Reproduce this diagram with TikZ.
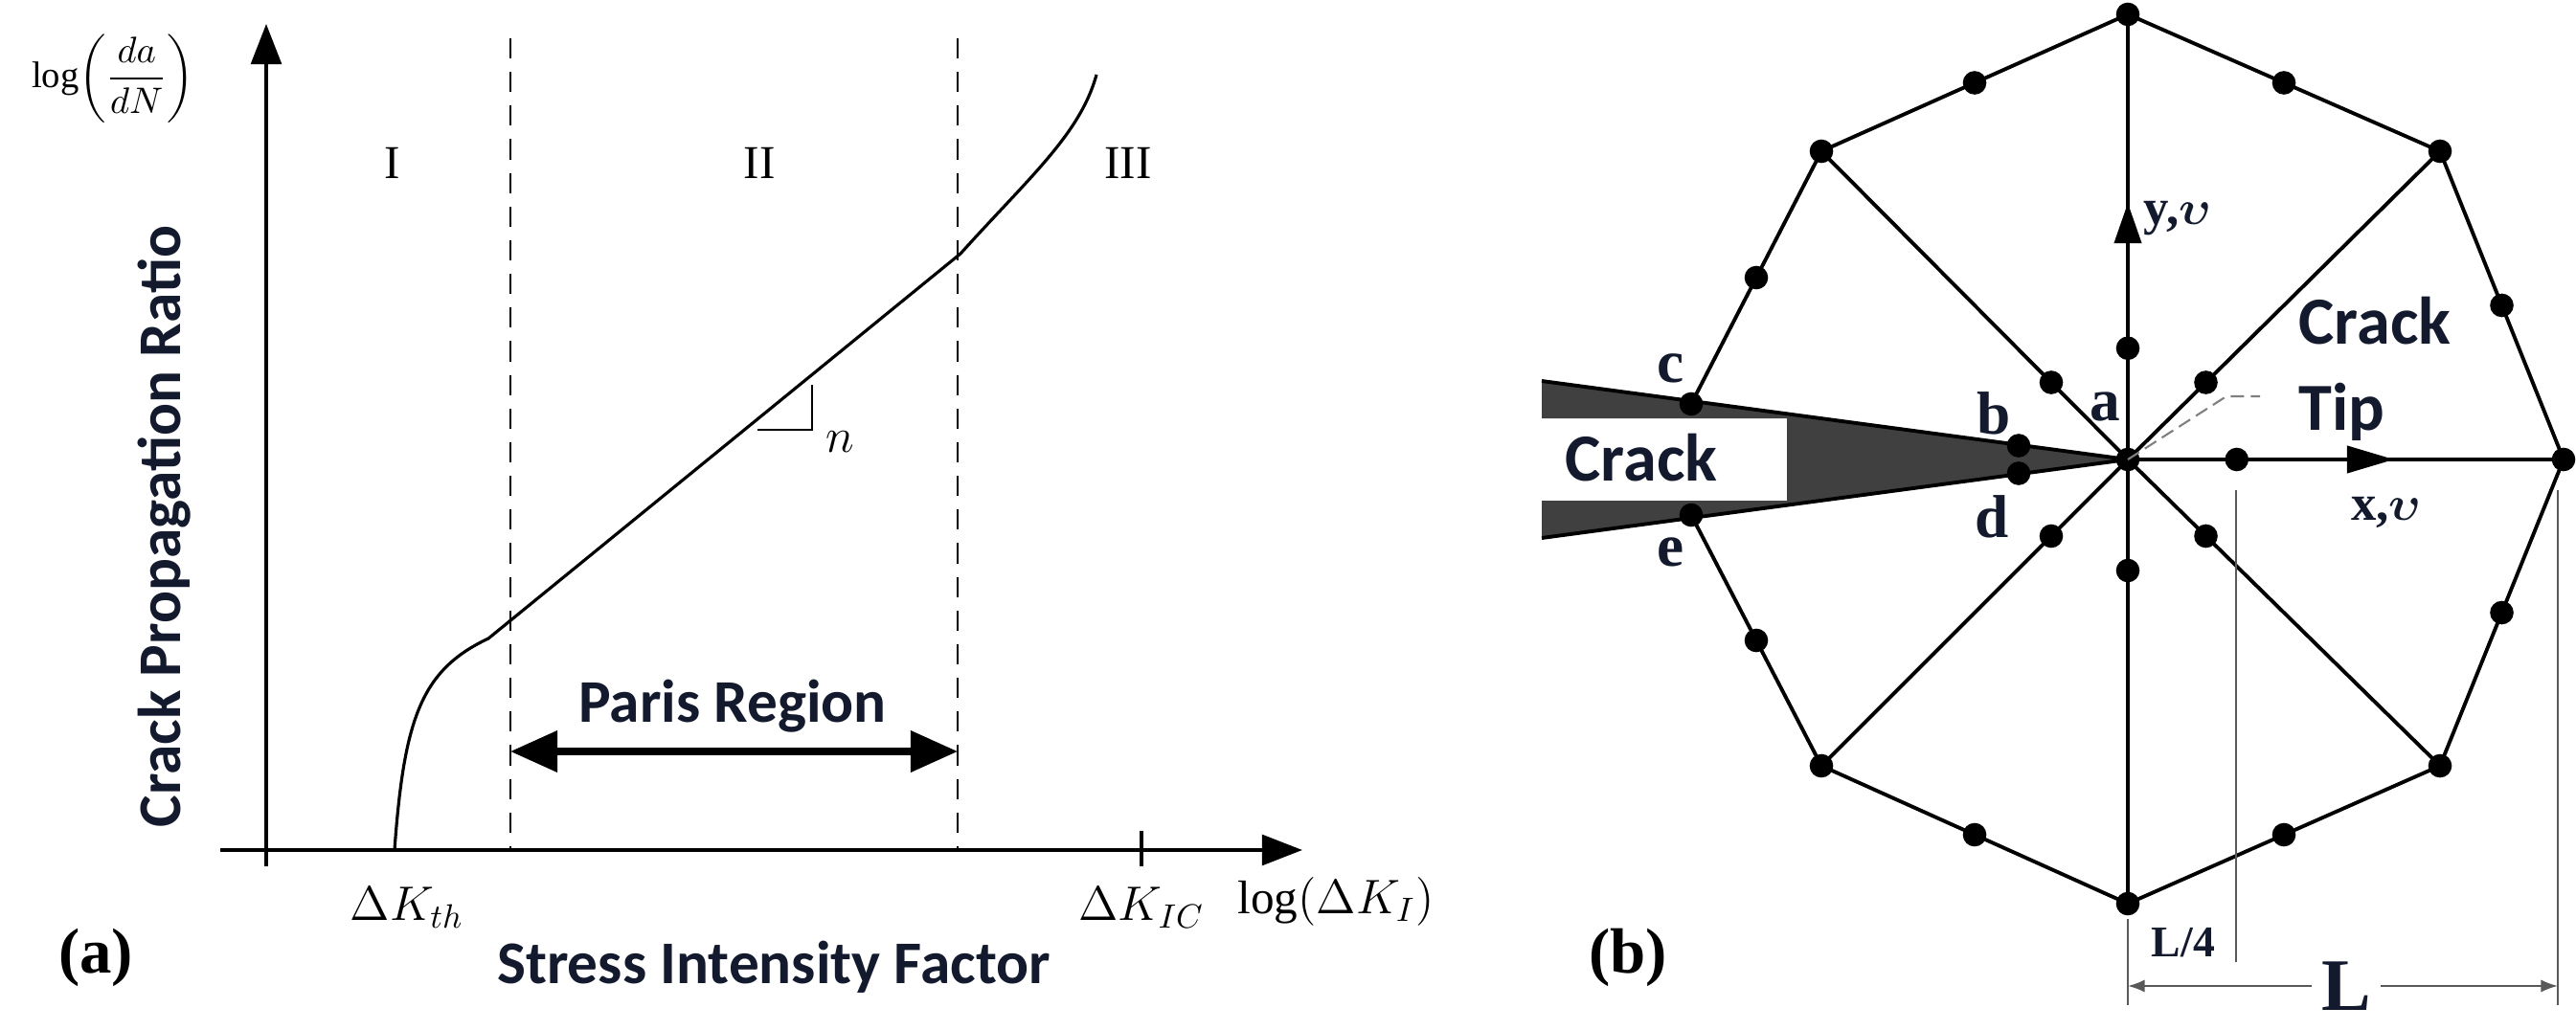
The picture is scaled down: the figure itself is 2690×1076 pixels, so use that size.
\documentclass[tikz,border=0pt]{standalone}
\usepackage{amsmath}
\usepackage{fontspec}
\setmainfont{Liberation Serif}
\newfontfamily\calib{Carlito}
\usetikzlibrary{arrows.meta,calc}
\definecolor{navy}{HTML}{141A2E}
\begin{document}
\begin{tikzpicture}[x=0.01cm,y=-0.01cm,
  ax/.style={line width=1.2pt,-{Triangle[length=12pt,width=9pt]}},
  crv/.style={line width=0.9pt},
  dsh/.style={line width=0.8pt,dash pattern=on 6pt off 4pt},
  lab/.style={font=\calib\bfseries\fontsize{18}{20}\selectfont,text=navy,inner sep=0pt},
  rom/.style={font=\fontsize{14}{16}\selectfont,inner sep=0pt},
  let/.style={font=\bfseries\fontsize{18}{20}\selectfont,text=navy,inner sep=0pt},
  mesh/.style={line width=1.1pt},
  dot/.style={circle,fill=black,inner sep=0pt,minimum size=7pt},
  dim/.style={line width=0.6pt,gray!70!black}]
\useasboundingbox (0,0) rectangle (2690,1076);
% ---------- panel (a)
\coordinate (o) at (278,888);
\coordinate (yb) at (278,905);
\coordinate (yt) at (278,25);
\coordinate (xl) at (230,888);
\coordinate (xr) at (1360,888);
\draw[ax] (yb) -- (yt);
\draw[ax] (xl) -- (xr);
\coordinate (d1t) at (533,40); \coordinate (d1b) at (533,888);
\coordinate (d2t) at (1000,40); \coordinate (d2b) at (1000,888);
\draw[dsh] (d1t) -- (d1b);
\draw[dsh] (d2t) -- (d2b);
\coordinate (tk1) at (1192,868); \coordinate (tk2) at (1192,905);
\draw[line width=1pt] (tk1) -- (tk2);
\coordinate (c0) at (412,888);
\coordinate (c1) at (510,667);
\coordinate (c2) at (1003,265);
\coordinate (c3) at (1145,78);
\draw[crv] (c0) .. controls (422,750) and (440,700) .. (c1) -- (c2) .. controls (1075,185) and (1128,140) .. (c3);
\coordinate (t1) at (791,449); \coordinate (t2) at (848,449); \coordinate (t3) at (848,402);
\draw[line width=0.8pt] (t1) -- (t2) -- (t3);
\node[font=\itshape\fontsize{14}{16}\selectfont,inner sep=0pt] (nn) at (877,462) {$n$};
\node[rom] (r1) at (410,170) {I};
\node[rom] (r2) at (793,170) {II};
\node[rom] (r3) at (1178,170) {III};
\coordinate (pa) at (533,785); \coordinate (pb) at (1000,785);
\draw[line width=2pt,{Triangle[length=14pt,width=12pt]}-{Triangle[length=14pt,width=12pt]}] (pa) -- (pb);
\node[lab] (paris) at (765,738) {Paris Region};
\node[font=\fontsize{14}{16}\selectfont,inner sep=0pt] (kth) at (425,948) {$\Delta K_{th}$};
\node[font=\fontsize{14}{16}\selectfont,inner sep=0pt] (kic) at (1192,948) {$\Delta K_{IC}$};
\node[font=\fontsize{14}{16}\selectfont,inner sep=0pt] (logk) at (1395,942) {$\log(\Delta K_{I})$};
\node[font=\fontsize{11}{13}\selectfont,inner sep=0pt] (logy) at (118,82) {$\log\!\left(\dfrac{da}{dN}\right)$};
\node[lab,rotate=90] (cpr) at (172,550) {Crack Propagation Ratio};
\node[lab] (sif) at (808,1010) {Stress Intensity Factor};
\node[font=\bfseries\fontsize{19}{21}\selectfont,inner sep=0pt] (pal) at (100,1000) {(a)};
\node[font=\bfseries\fontsize{19}{21}\selectfont,inner sep=0pt] (pbl) at (1700,1000) {(b)};
% ---------- panel (b)
\coordinate (O) at (2222,480);
\coordinate (T) at (2222,15);
\coordinate (UR) at (2548,158);
\coordinate (R) at (2677,480);
\coordinate (LR) at (2548,800);
\coordinate (B) at (2222,944);
\coordinate (LL) at (1902,800);
\coordinate (UL) at (1902,158);
\coordinate (C) at (1766,422);
\coordinate (E) at (1766,538);
\coordinate (CL) at (1610,398);
\coordinate (EL) at (1610,562);
\fill[black!75] (CL) -- (O) -- (EL) -- (1610,523) -- (1866,523) -- (1866,437) -- (1610,437) -- cycle;
\draw[mesh] (CL) -- (O) -- (EL);
\draw[mesh,line join=round] (C) -- (UL) -- (T) -- (UR) -- (R) -- (LR) -- (B) -- (LL) -- (E);
\foreach \p in {T,UR,R,LR,B,LL,UL} \draw[mesh] (O) -- (\p);
\coordinate (ya) at (2222,212); \coordinate (xa) at (2500,480);
\draw[line width=1.1pt,-{Triangle[length=12pt,width=8pt]}] (O) -- (ya);
\draw[line width=1.1pt,-{Triangle[length=14pt,width=8pt]}] (O) -- (xa);
\foreach \p in {T,UR,R,LR,B,LL,UL,C,E,O} \node[dot] (v\p) at (\p) {};
\foreach \a/\b in {UL/T,T/UR,UR/R,R/LR,LR/B,B/LL,LL/E,C/UL} \node[dot] (m\a\b) at ($(\a)!0.5!(\b)$) {};
\foreach \p in {T,UR,R,LR,B,LL,UL,C,E} \node[dot] (q\p) at ($(O)!0.25!(\p)$) {};
\coordinate (ld1) at (2325,414); \coordinate (ld2) at (2360,414);
\draw[gray,line width=0.6pt,dash pattern=on 4pt off 2pt] (O) -- (ld1) -- (ld2);
\node[lab,font=\calib\bfseries\fontsize{20}{22}\selectfont,anchor=west] (ck) at (2400,335) {Crack};
\node[lab,font=\calib\bfseries\fontsize{20}{22}\selectfont,anchor=west] (tip) at (2400,430) {Tip};
\node[lab,font=\calib\bfseries\fontsize{20}{22}\selectfont] (crk) at (1714,478) {Crack};
\node[let] (la) at (2198,425) {a};
\node[let] (lb) at (2082,432) {b};
\node[let] (lc) at (1745,385) {c};
\node[let] (ld) at (2080,540) {d};
\node[let] (le) at (1745,577) {e};
\node[let,font=\bfseries\fontsize{15}{17}\selectfont,anchor=west] (ly) at (2238,228) {y,$\boldsymbol{\upsilon}$};
\node[let,font=\bfseries\fontsize{15}{17}\selectfont] (lx) at (2492,535) {x,$\boldsymbol{\upsilon}$};
% dimensions
\coordinate (q1) at (2335,512); \coordinate (q2) at (2335,1005);
\coordinate (r1) at (2671,512); \coordinate (r2) at (2671,1050);
\coordinate (s1) at (2222,960); \coordinate (s2) at (2222,1050);
\coordinate (da) at (2222,1030); \coordinate (db) at (2671,1030);
\draw[dim] (q1) -- (q2);
\draw[dim] (r1) -- (r2);
\draw[dim] (s1) -- (s2);
\draw[dim,{Latex[length=5pt]}-{Latex[length=5pt]}] (da) -- (db);
\node[let,font=\bfseries\fontsize{13}{15}\selectfont] (lq) at (2280,985) {L/4};
\node[let,font=\bfseries\fontsize{22}{24}\selectfont,fill=white,inner xsep=3pt] (lL) at (2450,1030) {L};
\end{tikzpicture}
\end{document}
